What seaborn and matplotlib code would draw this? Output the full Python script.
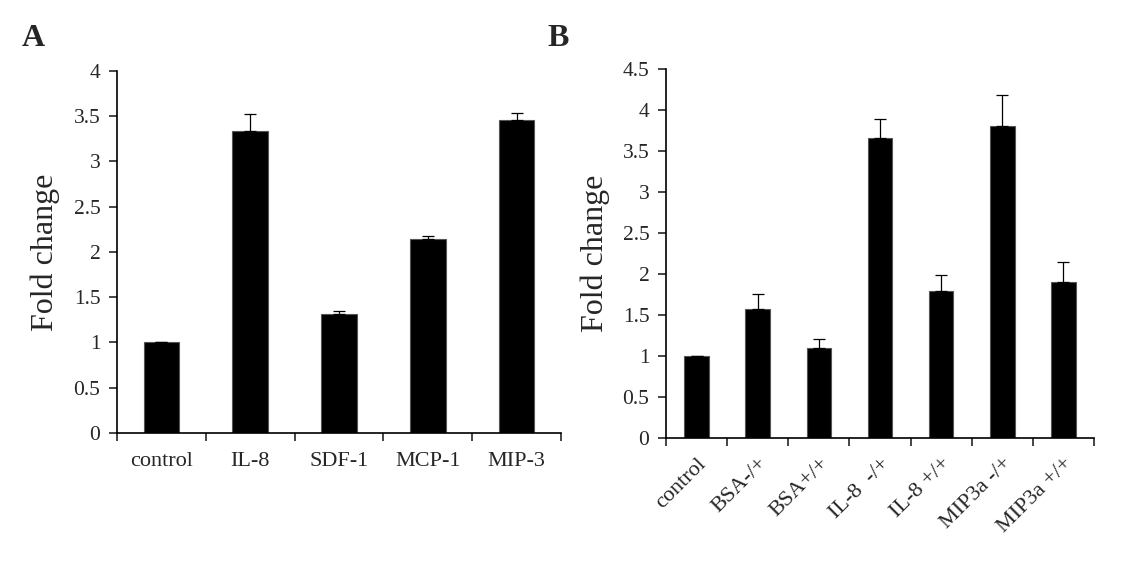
import numpy as np
import pandas as pd
import seaborn as sns
import matplotlib.pyplot as plt
from matplotlib.ticker import FixedLocator

# panel A
cats_a = ["control", "IL-8", "SDF-1", "MCP-1", "MIP-3"]
vals_a = [1.0, 3.34, 1.31, 2.14, 3.46]
err_a = [0.0, 0.18, 0.04, 0.04, 0.08]

# panel B
cats_b = ["control", "BSA-/+", "BSA+/+", "IL-8  -/+", "IL-8 +/+", "MIP3a -/+", "MIP3a +/+"]
vals_b = [1.0, 1.57, 1.10, 3.66, 1.79, 3.81, 1.90]
err_b = [0.0, 0.18, 0.10, 0.23, 0.19, 0.37, 0.24]

sns.set_style("white")
plt.rcParams['font.family'] = ['Liberation Serif', 'DejaVu Serif']

fig = plt.figure(figsize=(11.39, 5.72), dpi=100)
ax_a = fig.add_axes([0.1027, 0.243, 0.3898, 0.633])
ax_b = fig.add_axes([0.5847, 0.2348, 0.3758, 0.6446])


def draw_panel(ax, cats, vals, errs, ymax, step, rot, lpad):
    df = pd.DataFrame({"cat": cats, "val": vals})
    sns.barplot(data=df, x="cat", y="val", color="black", width=0.4,
                edgecolor="#555555", linewidth=0.8, saturation=1, ax=ax)
    x = np.arange(len(cats))
    ax.errorbar(x, vals, yerr=[np.zeros(len(errs)), errs], fmt="none",
                ecolor="black", elinewidth=0.9, capsize=4, capthick=0.9)
    ax.set_xlim(-0.5, len(cats) - 0.5)
    ax.set_ylim(0, ymax)
    yt = np.arange(0, ymax + 0.001, step)
    ax.set_yticks(yt)
    ax.set_yticklabels([f"{v:g}" for v in yt], fontsize=15.5)
    ax.xaxis.set_minor_locator(FixedLocator(np.arange(-0.5, len(cats), 1)))
    ax.tick_params(axis="x", which="minor", length=6, width=1.2, direction="out", bottom=True)
    ax.tick_params(axis="y", length=6, width=1.2, direction="out", left=True, pad=6)
    ax.set_xticks(x)
    if rot:
        ax.set_xticklabels(cats, fontsize=16, rotation=45, ha="right", rotation_mode="anchor")
        ax.tick_params(axis="x", which="major", length=0, pad=12)
    else:
        ax.set_xticklabels(cats, fontsize=16)
        ax.tick_params(axis="x", which="major", length=0, pad=14)
    ax.set_xlabel("")
    ax.set_ylabel("Fold change", fontsize=23, labelpad=lpad)
    sns.despine(ax=ax)
    for s in ["left", "bottom"]:
        ax.spines[s].set_color("black")
        ax.spines[s].set_linewidth(1.2)


draw_panel(ax_a, cats_a, vals_a, err_a, 4, 0.5, False, 10)
draw_panel(ax_b, cats_b, vals_b, err_b, 4.5, 0.5, True, 9)

fig.text(0.019, 0.92, "A", fontsize=23, fontweight="bold")
fig.text(0.481, 0.92, "B", fontsize=23, fontweight="bold")

fig.savefig("out.png", dpi=100, facecolor="white")
